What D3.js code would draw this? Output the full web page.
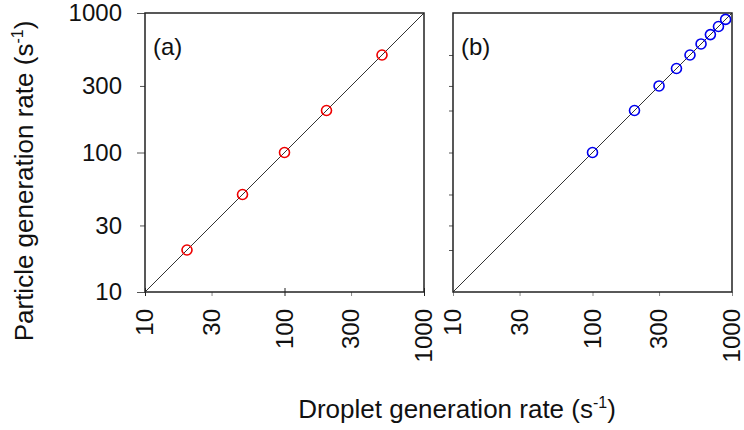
<!DOCTYPE html>
<html lang="en">
<head>
    <meta charset="utf-8">
    <title>Particle vs droplet generation rate</title>
    <script src="https://cdn.jsdelivr.net/npm/d3@7"></script>
    <style>
        body { margin: 0; background: #fff; }
        text { font-family: "Liberation Sans", Arial, sans-serif; fill: #111; }
    </style>
</head>
<body>
    <svg id="chart" width="744" height="430"></svg>

    <script>
        // data (droplet rate = particle rate)
        const dropletA = [20, 50, 100, 200, 500];
        const particleA = [20, 50, 100, 200, 500];
        const dropletB = [100, 200, 300, 400, 500, 600, 700, 800, 900];
        const particleB = [100, 200, 300, 400, 500, 600, 700, 800, 900];
        const tickLabels = [10, 30, 100, 300, 1000];
        const minorTicksB = [20, 30, 50, 100, 200, 300, 500];
        const identityLine = [10, 1000];

        const svg = d3.select("#chart");
        const size = 279;
        const marginTop = 13;

        const x = d3.scaleLog().domain([10, 1000]).range([0, size]);
        const y = d3.scaleLog().domain([10, 1000]).range([size, 0]);
        const isMajor = d => d === 10 || d === 100 || d === 1000;

        function panel(left, xs, ys, color, label, showYLabels) {
            const g = svg.append("g").attr("transform", `translate(${left},${marginTop})`);

            // 1:1 line
            g.append("line")
                .attr("x1", x(identityLine[0])).attr("y1", y(identityLine[0]))
                .attr("x2", x(identityLine[1])).attr("y2", y(identityLine[1]))
                .attr("stroke", "#333").attr("stroke-width", 1);

            // left axis
            const yAxis = d3.axisLeft(y).tickSizeOuter(0)
                .tickValues(showYLabels ? tickLabels : minorTicksB)
                .tickFormat(showYLabels ? d3.format("d") : "");
            const ya = g.append("g").call(yAxis);
            ya.select(".domain").remove();
            ya.selectAll(".tick line")
                .attr("stroke", "#555")
                .attr("x2", d => showYLabels ? (isMajor(d) ? -8 : -5) : -4);
            ya.selectAll(".tick text")
                .attr("x", -23).attr("font-size", 24);

            // bottom axis
            const xAxis = d3.axisBottom(x).tickSizeOuter(0)
                .tickValues(tickLabels).tickFormat(d3.format("d"));
            const xa = g.append("g").attr("transform", `translate(0,${size})`).call(xAxis);
            xa.select(".domain").remove();
            xa.selectAll(".tick line")
                .attr("stroke", d => showYLabels && isMajor(d) ? "#222" : "#888")
                .attr("y1", d => showYLabels && isMajor(d) ? -4 : 0)
                .attr("y2", 4);
            xa.selectAll(".tick text")
                .attr("transform", "rotate(-90)")
                .attr("x", -17).attr("y", 0).attr("dy", "0.33em")
                .attr("text-anchor", "end")
                .attr("font-size", 24);

            // frame
            g.append("rect")
                .attr("width", size).attr("height", size)
                .attr("fill", "none").attr("stroke", "#222").attr("stroke-width", 1.5);

            g.selectAll("circle")
                .data(xs.map((d, i) => [d, ys[i]]))
                .join("circle")
                .attr("cx", d => x(d[0]))
                .attr("cy", d => y(d[1]))
                .attr("r", 5)
                .attr("fill", "none")
                .attr("stroke", color)
                .attr("stroke-width", 1.6);

            g.append("text")
                .attr("x", 8).attr("y", 42)
                .attr("font-size", 24)
                .text(label);
        }

        panel(145, dropletA, particleA, "#ee0000", "(a)", true);
        panel(453, dropletB, particleB, "#0000ee", "(b)", false);

        // axis titles
        function title(t, transform) {
            const el = svg.append("text")
                .attr("transform", transform)
                .attr("text-anchor", "middle")
                .attr("font-size", 26);
            el.append("tspan").text(t + " (s");
            el.append("tspan").attr("font-size", 16).attr("dy", -10).text("-1");
            el.append("tspan").attr("dy", 10).text(")");
        }
        title("Particle generation rate", "translate(33,181) rotate(-90)");
        title("Droplet generation rate", "translate(457,418)");
    </script>
</body>
</html>
